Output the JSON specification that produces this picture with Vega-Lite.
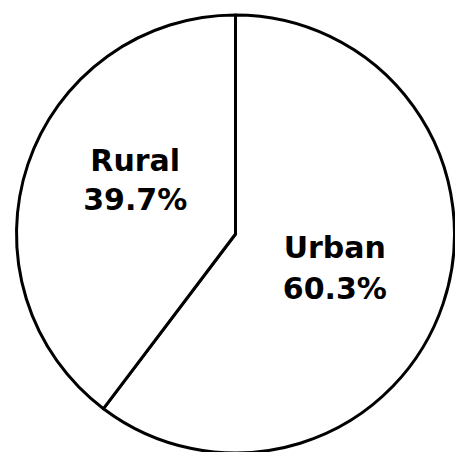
{
  "$schema": "https://vega.github.io/schema/vega-lite/v6.json",
  "autosize": "none",
  "width": 439,
  "height": 436,
  "padding": {"left": 16, "top": 16, "right": 0, "bottom": 0},
  "background": "white",
  "config": {"view": {"stroke": null}},
  "data": {
    "values": [
      {"category": "Urban", "share": 60.3, "idx": 1},
      {"category": "Rural", "share": 39.7, "idx": 2}
    ]
  },
  "transform": [
    {"calculate": "datum.category + '\\n' + format(datum.share, '.1f') + '%'", "as": "label"}
  ],
  "encoding": {
    "theta": {"field": "share", "type": "quantitative", "stack": true},
    "order": {"field": "idx", "type": "quantitative"}
  },
  "layer": [
    {
      "mark": {"type": "arc", "outerRadius": 219, "fill": "white", "stroke": "black", "strokeWidth": 3, "strokeJoin": "round"}
    },
    {
      "mark": {"type": "text", "radius": 110, "dx": -5, "dy": -20, "font": "DejaVu Sans", "fontWeight": "bold", "fontSize": 30, "lineHeight": 41, "lineBreak": "\n", "align": "center", "baseline": "middle", "fill": "black"},
      "encoding": {
        "text": {"condition": {"test": "datum.category === 'Urban'", "field": "label"}, "value": ""}
      }
    },
    {
      "mark": {"type": "text", "radius": 110, "dx": 4, "dy": -37, "font": "DejaVu Sans", "fontWeight": "bold", "fontSize": 30, "lineHeight": 39, "lineBreak": "\n", "align": "center", "baseline": "middle", "fill": "black"},
      "encoding": {
        "text": {"condition": {"test": "datum.category === 'Rural'", "field": "label"}, "value": ""}
      }
    }
  ]
}
